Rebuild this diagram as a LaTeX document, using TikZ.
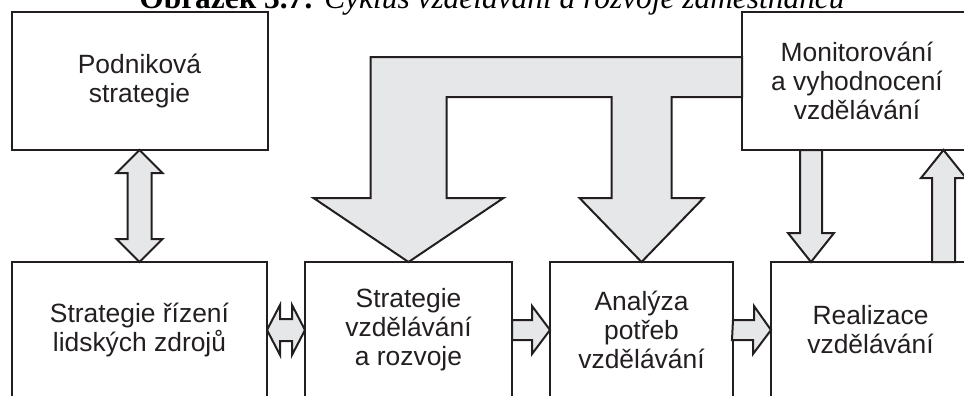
\documentclass[tikz,border=0pt]{standalone}
\usepackage{fontspec}
\setmainfont{Liberation Serif}
\newfontfamily\boxfont{Liberation Sans}
\usetikzlibrary{positioning, calc}
\definecolor{linegray}{HTML}{231F20}
\definecolor{arrowfill}{HTML}{E6E7E8}
\tikzstyle{block} = [rectangle, draw=linegray, line width=1pt,
    fill=white, text=linegray, align=center,
    inner sep=0pt, outer sep=0pt,
    font=\boxfont\fontsize{13.2}{14.5}\selectfont]
\tikzstyle{fat} = [draw=linegray, line width=1pt, fill=arrowfill, line join=miter]

\begin{document}
\begin{tikzpicture}[x=0.5pt, y=-0.5pt, node distance=56pt and 19pt]
  \clip (0,0) rectangle (964,396);
  \node (title) [anchor=base, font=\fontsize{15.7}{18}\selectfont] at (492,9)
    {\textbf{Obrázek 3.7:} \textit{Cyklus vzdělávání a rozvoje zaměstnanců}};

  \node (srlz) [block, minimum width=127.5pt, minimum height=68pt] at (139.5,330)
    {Strategie řízení\\ lidských zdrojů};
  \node (svr)  [block, right=of srlz, minimum width=103.5pt, minimum height=68pt]
    {Strategie\\ vzdělávání\\ a rozvoje};
  \node (ana)  [block, right=of svr, minimum width=91.5pt, minimum height=68pt]
    {Analýza\\ potřeb\\ vzdělávání};
  \node (real) [block, right=of ana, minimum width=99.5pt, minimum height=68pt]
    {Realizace\\ vzdělávání};
  \node (pod)  [block, above=of srlz, minimum width=128pt, minimum height=69pt]
    {Podniková\\ strategie};
  \node (mon)  [block, minimum width=115pt, minimum height=69pt] at (857,81)
    {Monitorování\\ a vyhodnocení\\ vzdělávání};

  % podnikova <-> strategie rizeni
  \draw[fat] (pod.south) -- ++(23,23) -- ++(-11,0) -- ++(0,66) -- ++(11,0)
    -- (srlz.north) -- ++(-23,-23) -- ++(11,0) -- ++(0,-66) -- ++(-11,0) -- cycle;
  % strategie rizeni <-> strategie vzdelavani
  \draw[fat] (srlz.east) -- ++(13,-25) -- ++(0,14) -- ++(12,0) -- ++(0,-14)
    -- (svr.west) -- ++(-13,25) -- ++(0,-14) -- ++(-12,0) -- ++(0,14) -- cycle;
  % bottom row
  \draw[fat] ($(svr.east)+(0,-10)$) -- ++(20,0) -- ++(0,-14) -- (ana.west)
    -- ++(-18,24) -- ++(0,-14) -- ++(-20,0) -- cycle;
  \draw[fat] ($(ana.east)+(0,-10)$) -- ++(21,0) -- ++(0,-14) -- (real.west)
    -- ++(-18,24) -- ++(0,-14) -- ++(-21,0) -- cycle;
  % monitorovani <-> realizace
  \draw[fat] ($(mon.south west)+(58,0)$) -- ++(0,83) -- ++(-12,0)
    -- ($(real.north west)+(40,0)$) -- ++(23,-29) -- ++(-12,0)
    -- ($(mon.south west)+(80,0)$) -- cycle;
  \draw[fat] ($(real.north west)+(161,0)$) -- ++(0,-84) -- ++(-11,0)
    -- ($(mon.south west)+(201.5,0)$) -- ++(22.5,28) -- ++(-11,0)
    -- ($(real.north west)+(184,0)$) -- cycle;
  % feedback from monitorovani
  \draw[fat] ($(mon.north west)+(0,45)$) -| ($(svr.north)+(-38,-64)$) -- ++(-57,0)
    -- (svr.north) -- ++(95,-64) -- ++(-57,0)
    |- ($(ana.north)+(-30,-165)$) -- ++(0,101) -- ++(-32,0)
    -- (ana.north) -- ++(62,-64) -- ++(-32,0)
    |- ($(mon.north west)+(0,85)$) -- cycle;
\end{tikzpicture}
\end{document}
